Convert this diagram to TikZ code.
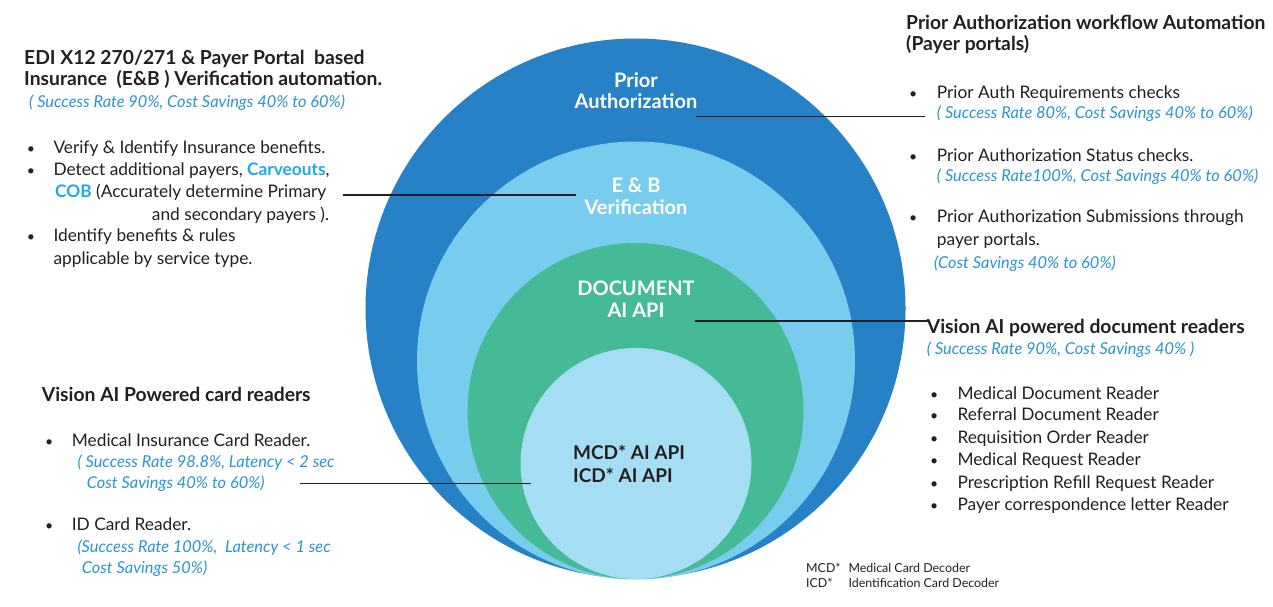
\documentclass[tikz,border=0pt]{standalone}
\usepackage{fontspec}
\setmainfont{Lato}
\definecolor{outerblue}{HTML}{2681C6}
\definecolor{lightblue}{HTML}{78CDEF}
\definecolor{docgreen}{HTML}{44BA97}
\definecolor{innerblue}{HTML}{A5DEF4}
\definecolor{ink}{HTML}{231F20}
\definecolor{noteblue}{HTML}{2A95D0}
\definecolor{hicyan}{HTML}{1FAAE6}
\begin{document}
\begin{tikzpicture}[x=1pt,y=-1pt,
  ring/.style={circle, draw=none, inner sep=0pt, minimum size=#1},
  body/.style={anchor=base west, inner sep=0pt, text=ink, font=\fontsize{17.3}{20}\selectfont},
  head/.style={anchor=base west, inner sep=0pt, text=ink, font=\fontsize{19.3}{22}\selectfont\bfseries},
  note/.style={anchor=base west, inner sep=0pt, text=noteblue, font=\fontsize{16.4}{20}\selectfont\itshape},
  dot/.style={anchor=base west, inner sep=0pt, text=ink, font=\fontsize{14}{20}\selectfont},
  inlabel/.style={anchor=base, inner sep=0pt, text=white, font=\fontsize{20}{22}\selectfont\bfseries},
  corelabel/.style={anchor=base west, inner sep=0pt, text=ink, font=\fontsize{19}{22}\selectfont\bfseries},
  foot/.style={anchor=base west, inner sep=0pt, text=ink, font=\fontsize{12.4}{14}\selectfont},
  leader/.style={draw=ink, line width=1.2pt}]
\useasboundingbox (0,0) rectangle (1273,607);
\fill[white] (0,0) rectangle (1273,607);

% rings
\node[ring=540pt, fill=outerblue] (outer) at (635.5,308.5) {};
\node[ring=438pt, fill=lightblue] (eb) at (636,360.5) {};
\node[ring=336pt, fill=docgreen] (doc) at (635.5,411) {};
\node[ring=231pt, fill=innerblue] (core) at (636,463.5) {};

% ring labels
\node[inlabel] (pa1) at (636,88) {Prior};
\node[inlabel] (pa2) at (636,109) {Authorization};
\node[inlabel] (eb1) at (636,192.5) {E \& B};
\node[inlabel] (eb2) at (636,214) {Verification};
\node[inlabel] (doc1) at (636,295) {DOCUMENT};
\node[inlabel] (doc2) at (636,317) {AI API};
\node[corelabel] (core1) at (573,459.3) {MCD* AI API};
\node[corelabel] (core2) at (573,482.3) {ICD* AI API};

% left top block
\node[head] (lt1) at (24,65) {EDI X12 270/271 \& Payer Portal\ \ based};
\node[head] (lt2) at (24,86) {Insurance\ \ (E\&B ) Verification automation.};
\node[note] (lt3) at (29,107.7) {( Success Rate 90\%, Cost Savings 40\% to 60\%)};
\node[dot] (lb1) at (26.7,153.3) {•};
\node[body] (lt4) at (53.3,153.3) {Verify \& Identify Insurance benefits.};
\node[dot] (lb2) at (26.7,175) {•};
\node[body] (lt5) at (53.3,175) {Detect additional payers, {\bfseries\color{hicyan}Carveouts},};
\node[body] (lt6) at (55,197.7) {{\bfseries\color{hicyan}COB} (Accurately determine Primary};
\node[body] (lt7) at (151.7,220) {and secondary payers ).};
\node[dot] (lb3) at (26.7,241.7) {•};
\node[body] (lt8) at (53.3,241.7) {Identify benefits \& rules};
\node[body] (lt9) at (53.3,264) {applicable by service type.};

% right top block
\node[head] (rt1) at (906,30) {Prior Authorization workflow Automation};
\node[head] (rt2) at (906,51) {(Payer portals)};
\node[dot] (rb1) at (909,98.3) {•};
\node[body] (rt3) at (936.7,98.3) {Prior Auth Requirements checks};
\node[note] (rt4) at (936.7,119) {( Success Rate 80\%, Cost Savings 40\% to 60\%)};
\node[dot] (rb2) at (909,161.7) {•};
\node[body] (rt5) at (936.7,161.7) {Prior Authorization Status checks.};
\node[note] (rt6) at (936.7,181.7) {( Success Rate100\%, Cost Savings 40\% to 60\%)};
\node[dot] (rb3) at (909,222.7) {•};
\node[body] (rt7) at (936.7,222.7) {Prior Authorization Submissions through};
\node[body] (rt8) at (936.7,245) {payer portals.};
\node[note] (rt9) at (934,268.3) {(Cost Savings 40\% to 60\%)};

% right middle block
\node[head] (rm1) at (926.7,333.3) {Vision AI powered document readers};
\node[note] (rm2) at (926.7,354.3) {( Success Rate 90\%, Cost Savings 40\% )};
\node[dot] (mb1) at (930,399.3) {•};
\node[body] (rm3) at (957.3,399.3) {Medical Document Reader};
\node[dot] (mb2) at (930,420.7) {•};
\node[body] (rm4) at (957.3,420.7) {Referral Document Reader};
\node[dot] (mb3) at (930,443.3) {•};
\node[body] (rm5) at (957.3,443.3) {Requisition Order Reader};
\node[dot] (mb4) at (930,465.7) {•};
\node[body] (rm6) at (957.3,465.7) {Medical Request Reader};
\node[dot] (mb5) at (930,488.7) {•};
\node[body] (rm7) at (957.3,488.7) {Prescription Refill Request Reader};
\node[dot] (mb6) at (930,510.7) {•};
\node[body] (rm8) at (957.3,510.7) {Payer correspondence letter Reader};

% left bottom block
\node[head] (lb0) at (41.7,401.7) {Vision AI Powered card readers};
\node[dot] (cb1) at (45,446) {•};
\node[body] (lc1) at (71.7,446) {Medical Insurance Card Reader.};
\node[note] (lc2) at (77.3,467.7) {( Success Rate 98.8\%, Latency < 2 sec};
\node[note] (lc3) at (86.7,488.3) {Cost Savings 40\% to 60\%)};
\node[dot] (cb2) at (45,530.7) {•};
\node[body] (lc4) at (71.7,530.7) {ID Card Reader.};
\node[note] (lc5) at (77.3,552.7) {(Success Rate 100\%,\ \ Latency < 1 sec};
\node[note] (lc6) at (81.7,573.3) {Cost Savings 50\%)};

% footnote
\node[foot] (f1) at (806,572.3) {MCD*};
\node[foot] (f2) at (848.3,572.3) {Medical Card Decoder};
\node[foot] (f3) at (806,587.3) {ICD*};
\node[foot] (f4) at (848.3,587.3) {Identification Card Decoder};

% leader lines
\coordinate (paA) at (696,116.5);
\coordinate (paB) at (925,116.5);
\coordinate (ebA) at (343,195);
\coordinate (ebB) at (576,195);
\coordinate (docA) at (695,321);
\coordinate (docB) at (928,321);
\coordinate (cardA) at (300,483.3);
\coordinate (cardB) at (531,483.3);
\draw[leader] (paA) -- (paB);
\draw[leader] (ebA) -- (ebB);
\draw[leader] (docA) -- (docB);
\draw[leader] (cardA) -- (cardB);
\end{tikzpicture}
\end{document}
